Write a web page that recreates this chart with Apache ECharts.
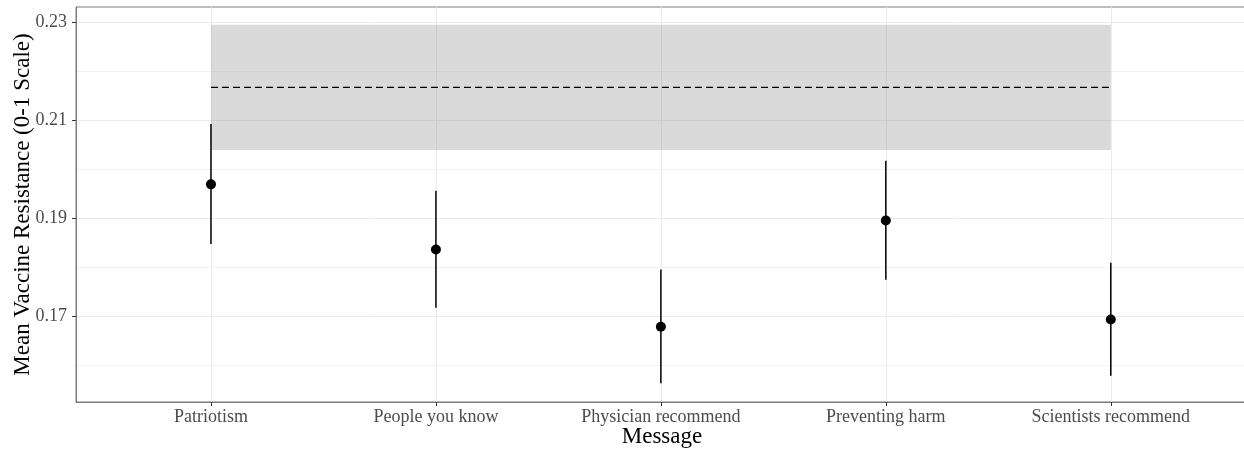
<!DOCTYPE html>
<html>
<head>
<meta charset="utf-8">
<script src="https://cdn.jsdelivr.net/npm/echarts@6/dist/echarts.min.js"></script>
<style>html,body{margin:0;padding:0;background:#fff}#c{width:1244px;height:450px}</style>
</head>
<body>
<div id="c"></div>
<script>
const categories = ['Patriotism', 'People you know', 'Physician recommend', 'Preventing harm', 'Scientists recommend'];
const means = [0.1969, 0.1836, 0.1678, 0.1895, 0.1693];
const lower = [0.1847, 0.1717, 0.1563, 0.1774, 0.1578];
const upper = [0.2092, 0.1956, 0.1795, 0.2017, 0.1809];
const refMean = 0.2167;
const refLower = 0.2039;
const refUpper = 0.2295;
const yMajorTicks = [0.17, 0.19, 0.21, 0.23];
const yMinorTicks = [0.16, 0.18, 0.20, 0.22];
const yMin = 0.15245, yMax = 0.23312;

const idx = categories.map((_, i) => i);
const font = 'Liberation Serif';
const chart = echarts.init(document.getElementById('c'));
chart.setOption({
  animation: false,
  backgroundColor: '#fff',
  grid: { left: 76, right: -4, top: 7, bottom: 48, show: true, borderColor: '#7a7a7a', borderWidth: 1, backgroundColor: 'transparent', containLabel: false, outerBoundsMode: 'none' },
  xAxis: {
    type: 'value', min: -0.6, max: 4.61,
    name: 'Message', nameLocation: 'middle', nameGap: 23, nameMoveOverlap: false,
    nameTextStyle: { fontFamily: font, fontSize: 23, color: '#000' },
    axisLine: { show: true, onZero: false, lineStyle: { color: '#7a7a7a' } },
    axisTick: { show: true, length: 4, customValues: idx, lineStyle: { color: '#333' } },
    axisLabel: { customValues: idx, formatter: v => categories[Math.round(v)], fontFamily: font, fontSize: 18, color: '#4d4d4d', margin: 6 },
    splitLine: { show: true, lineStyle: { color: '#ebebeb', width: 1 } }
  },
  yAxis: [{
    type: 'value', min: yMin, max: yMax,
    name: 'Mean Vaccine Resistance (0-1 Scale)', nameLocation: 'middle', nameGap: 42, nameMoveOverlap: false,
    nameTextStyle: { fontFamily: font, fontSize: 23, color: '#000' },
    axisLine: { show: true, onZero: false, lineStyle: { color: '#7a7a7a' } },
    axisTick: { show: true, length: 4, customValues: yMajorTicks, lineStyle: { color: '#333' } },
    axisLabel: { customValues: yMajorTicks, formatter: v => v.toFixed(2), fontFamily: font, fontSize: 18, color: '#4d4d4d', margin: 9 },
    splitLine: { show: true, lineStyle: { color: '#ebebeb', width: 1 } }
  }, {
    type: 'value', min: yMin, max: yMax, position: 'left',
    axisLine: { show: false, onZero: false },
    axisTick: { show: false, customValues: yMinorTicks },
    axisLabel: { show: false, customValues: yMinorTicks },
    splitLine: { show: true, lineStyle: { color: '#f2f2f2', width: 1 } }
  }],
  series: [{
    type: 'line',
    data: [[0, refMean], [categories.length - 1, refMean]],
    symbol: 'none',
    lineStyle: { color: '#000', width: 1.2, type: [7, 4] },
    markArea: {
      silent: true,
      itemStyle: { color: 'rgba(150,150,150,0.35)' },
      data: [[{ xAxis: 0, yAxis: refLower }, { xAxis: categories.length - 1, yAxis: refUpper }]]
    },
    z: 3
  }, {
    type: 'custom',
    data: idx.map(i => [i, lower[i], upper[i]]),
    renderItem: (params, api) => {
      const a = api.coord([api.value(0), api.value(1)]);
      const b = api.coord([api.value(0), api.value(2)]);
      return { type: 'line', shape: { x1: a[0], y1: a[1], x2: b[0], y2: b[1] }, style: { stroke: '#000', lineWidth: 1.5 } };
    },
    z: 4
  }, {
    type: 'scatter',
    data: idx.map(i => [i, means[i]]),
    symbol: 'circle', symbolSize: 10,
    itemStyle: { color: '#000', opacity: 1 },
    z: 5
  }]
});
</script>
</body>
</html>
